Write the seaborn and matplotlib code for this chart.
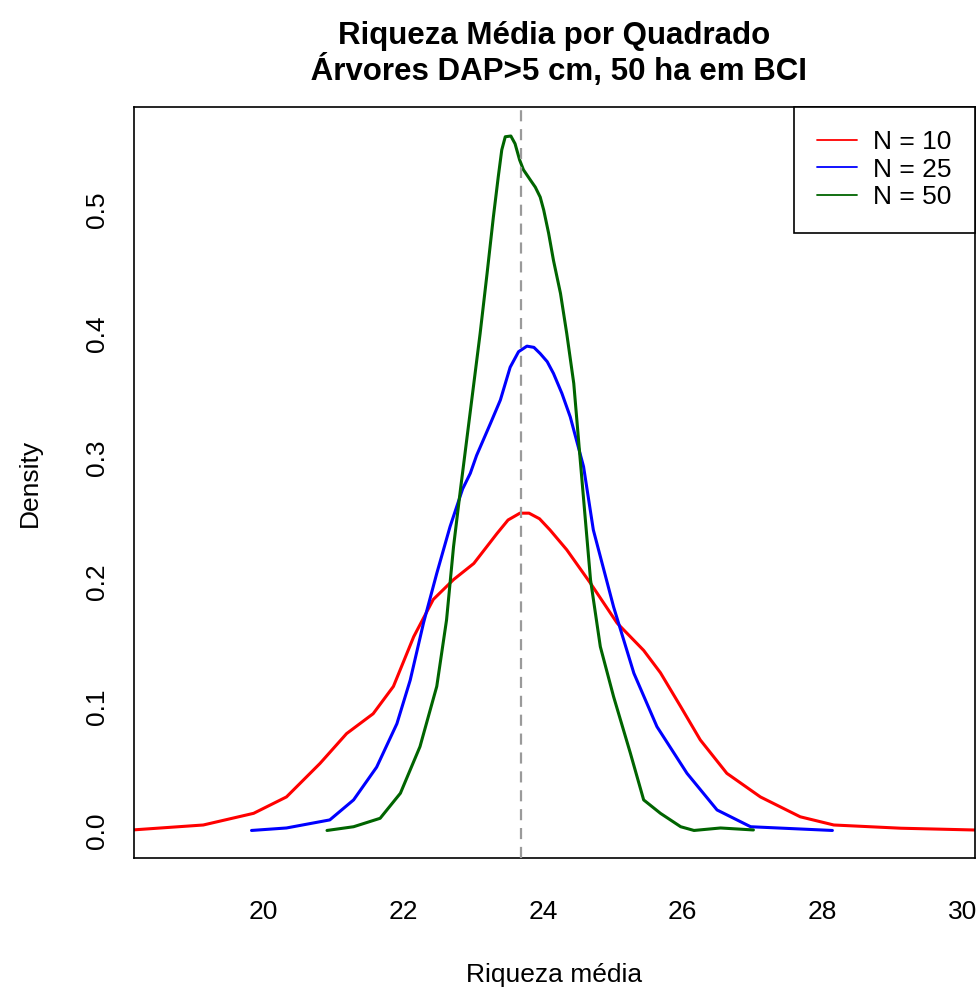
import numpy as np
import pandas as pd
import matplotlib
matplotlib.use("Agg")
import matplotlib.pyplot as plt
from matplotlib.lines import Line2D
import seaborn as sns

# density curves (x = riqueza media, y = density)
x_n10 = [18.10, 19.14, 19.86, 20.33, 20.81, 21.19, 21.57, 21.86, 22.15, 22.43,
         22.72, 23.01, 23.34, 23.50, 23.67, 23.80, 23.95, 24.10, 24.34, 24.68,
         25.06, 25.44, 25.68, 25.97, 26.25, 26.63, 27.11, 27.68, 28.16, 29.12, 30.30]
y_n10 = [0.0003, 0.0044, 0.0138, 0.027, 0.054, 0.078, 0.094, 0.116, 0.156, 0.186,
         0.202, 0.215, 0.239, 0.250, 0.2555, 0.2555, 0.251, 0.242, 0.226, 0.199,
         0.167, 0.145, 0.127, 0.0997, 0.0729, 0.046, 0.027, 0.011, 0.0044, 0.0018, 0.0002]

x_n25 = [19.83, 20.33, 20.95, 21.29, 21.62, 21.91, 22.10, 22.29, 22.48, 22.67,
         22.85, 22.96, 23.05, 23.25, 23.39, 23.53, 23.65, 23.77, 23.87, 23.96,
         24.06, 24.15, 24.27, 24.39, 24.58, 24.72, 25.01, 25.30, 25.63, 26.06,
         26.49, 26.97, 28.14]
y_n25 = [0.0, 0.002, 0.0085, 0.0246, 0.051, 0.086, 0.121, 0.167, 0.207, 0.2446,
         0.275, 0.2876, 0.302, 0.328, 0.3466, 0.373, 0.3855, 0.390, 0.389, 0.384,
         0.3775, 0.368, 0.352, 0.333, 0.293, 0.242, 0.180, 0.1266, 0.0836, 0.046,
         0.0165, 0.003, 0.0]

x_n50 = [20.91, 21.29, 21.67, 21.96, 22.24, 22.48, 22.62, 22.72, 22.82, 23.10,
         23.20, 23.29, 23.36, 23.41, 23.46, 23.54, 23.60, 23.665, 23.72, 23.82,
         23.89, 23.96, 24.01, 24.08, 24.15, 24.25, 24.34, 24.44, 24.53, 24.68,
         24.82, 25.01, 25.25, 25.44, 25.68, 25.97, 26.16, 26.54, 27.01]
y_n50 = [0.0, 0.003, 0.0098, 0.030, 0.0675, 0.116, 0.1695, 0.2285, 0.275, 0.400,
         0.4486, 0.494, 0.5264, 0.548, 0.5586, 0.5592, 0.553, 0.540, 0.532, 0.5237,
         0.518, 0.510, 0.4996, 0.481, 0.459, 0.4325, 0.400, 0.360, 0.300, 0.2017,
         0.148, 0.1077, 0.0622, 0.0246, 0.0138, 0.003, 0.0, 0.002, 0.0004]

labels = ["N = 10", "N = 25", "N = 50"]
colors = {"N = 10": "#ff0000", "N = 25": "#0000ff", "N = 50": "#006400"}
media_geral = 23.686

df = pd.concat([
    pd.DataFrame({"x": x_n10, "dens": y_n10, "N": labels[0]}),
    pd.DataFrame({"x": x_n25, "dens": y_n25, "N": labels[1]}),
    pd.DataFrame({"x": x_n50, "dens": y_n50, "N": labels[2]}),
], ignore_index=True)

sns.set_style("white")
plt.rcParams["font.family"] = ["Liberation Sans", "DejaVu Sans"]
plt.rcParams["text.color"] = "black"
plt.rcParams["axes.labelcolor"] = "black"

fig = plt.figure(figsize=(9.79, 9.88), dpi=100)
ax = fig.add_axes([0.1369, 0.1313, 0.859, 0.7607])

sns.lineplot(data=df, x="x", y="dens", hue="N", palette=colors,
             estimator=None, sort=False, linewidth=2.2, legend=False, ax=ax)
for ln in ax.get_lines():
    ln.set_solid_joinstyle("round")
    ln.set_solid_capstyle("round")
ax.axvline(media_geral, color="#9a9a9a", lw=1.6, dashes=(5, 3.5), zorder=5)

ax.set_xlim(18.149, 30.18)
ax.set_ylim(-0.0224, 0.5828)
ax.set_xticks([20, 22, 24, 26, 28, 30])
ax.set_yticks([0.0, 0.1, 0.2, 0.3, 0.4, 0.5])
ax.set_yticklabels(["0.0", "0.1", "0.2", "0.3", "0.4", "0.5"], rotation=90, va="center")
ax.tick_params(axis="both", direction="out", length=10, width=1.2, labelsize=19,
               color="black", labelcolor="black")
ax.tick_params(axis="x", pad=20)
ax.tick_params(axis="y", pad=8)
for s in ax.spines.values():
    s.set_visible(True)
    s.set_color("black")
    s.set_linewidth(1.2)

ax.set_xlabel("Riqueza média", fontsize=19, labelpad=28)
ax.set_ylabel("Density", fontsize=19, labelpad=31)
ax.set_title("Riqueza Média por Quadrado\n Árvores DAP>5 cm, 50 ha em BCI",
             fontsize=22.5, fontweight="bold", pad=19, linespacing=1.12, color="black")

handles = [Line2D([0], [0], color=colors[l], lw=1.3) for l in labels]
leg = ax.legend(handles, labels, loc="upper right", fontsize=19, frameon=True,
                fancybox=False, framealpha=1, edgecolor="black", borderaxespad=0,
                borderpad=0.9, handlelength=1.5, handletextpad=0.6, labelspacing=0.12)
leg.get_frame().set_linewidth(1.2)

fig.savefig("out.png", dpi=100)
